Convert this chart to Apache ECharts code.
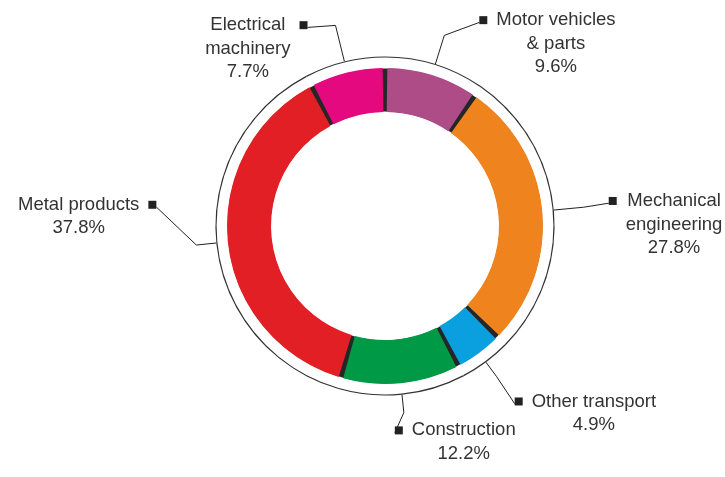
<!DOCTYPE html>
<html>
<head>
<meta charset="utf-8">
<script src="https://cdn.jsdelivr.net/npm/echarts@6/dist/echarts.min.js"></script>
<style>
  html, body { margin: 0; padding: 0; background: #fff; }
  #chart { width: 725px; height: 477px; }
</style>
</head>
<body>
<div id="chart"></div>
<script>
var names = ["Motor vehicles\n& parts", "Mechanical\nengineering", "Other transport", "Construction", "Metal products", "Electrical\nmachinery"];
var shares = [9.6, 27.8, 4.9, 12.2, 37.8, 7.7];
var colors = ["#ae4c87", "#ef841f", "#0aa0df", "#009a46", "#e31f26", "#e4097f"];

// leader lines: radial leg, horizontal leg, then a nudge of the label end
var leg1 = [30, 30, 18, 18, 20, 37];
var leg2 = [35, 28, 18, 0, 40, 28];
var nudgeX = [0, -3, 0, -9, 0, 0];
var nudgeY = [-13, -4, 27, 20, -38, 2];

var LH = 23.5;

function hasFont(name) {
  var c = document.createElement("canvas").getContext("2d");
  var s = "Other transport 37.8%";
  c.font = "40px monospace";
  var w0 = c.measureText(s).width;
  c.font = '40px "' + name + '", monospace';
  return c.measureText(s).width !== w0;
}
var narrow = hasFont("Liberation Sans Narrow");
var family = narrow ? '"Liberation Sans Narrow", sans-serif' : '"Liberation Sans", Arial, sans-serif';
var size = narrow ? 22 : 18.5;

// which side each label sits on
var total = shares.reduce(function (a, b) { return a + b; }, 0);
var onLeft = [];
var acc = 0;
shares.forEach(function (v) {
  onLeft.push((acc + v / 2) / total > 0.5);
  acc += v;
});

var gapData = shares.map(function (v) { return { value: v }; });
var sliceData = shares.map(function (v, i) {
  return { value: v, itemStyle: { color: colors[i] } };
});
var labelData = shares.map(function (v, i) {
  return { value: v, name: names[i], labelLine: { length: leg1[i], length2: leg2[i] } };
});

var myChart = echarts.init(document.getElementById("chart"));
var option = {
  animation: false,
  backgroundColor: "#fff",
  series: [
    {
      type: "pie",
      center: [385, 226],
      radius: [114.5, 157.5],
      startAngle: 80,
      silent: true,
      itemStyle: { color: "#262626", borderWidth: 0 },
      label: { show: false },
      labelLine: { show: false },
      data: gapData
    },
    {
      type: "pie",
      center: [385, 226],
      radius: [114, 158],
      padAngle: 1.7,
      silent: true,
      itemStyle: { borderWidth: 0 },
      label: { show: false },
      labelLine: { show: false },
      data: sliceData
    },
    {
      type: "pie",
      center: [385, 226],
      radius: [168.4, 169.6],
      silent: true,
      avoidLabelOverlap: false,
      itemStyle: { color: "#333", borderWidth: 0 },
      label: {
        show: true,
        position: "outside",
        distanceToLabelLine: 0,
        formatter: function (p) {
          var i = p.dataIndex;
          var lines = names[i].split("\n").concat([shares[i].toFixed(1) + "%"]);
          return lines.map(function (s, k) {
            if (k === 0) {
              return onLeft[i] ? "{sl|}{t|" + s + "}{gr|}{mr|}" : "{ml|}{gl|}{t|" + s + "}{sr|}";
            }
            return "{sl|}{t|" + s + "}{sr|}";
          }).join("\n");
        },
        rich: {
          t: { fontFamily: family, fontSize: size, lineHeight: LH, color: "#333", align: "center" },
          ml: { width: 8, height: 8, backgroundColor: "#222", align: "left", lineHeight: LH },
          mr: { width: 8, height: 8, backgroundColor: "#222", align: "right", lineHeight: LH },
          gl: { width: 9, align: "left", lineHeight: LH },
          gr: { width: 9, align: "right", lineHeight: LH },
          sl: { width: 17, align: "left", lineHeight: LH },
          sr: { width: 17, align: "right", lineHeight: LH }
        }
      },
      labelLine: {
        show: true,
        lineStyle: { color: "#222", width: 1 }
      },
      labelLayout: function (params) {
        var i = params.dataIndex;
        var pts = params.labelLinePoints;
        if (!pts) {
          return {};
        }
        var h = params.labelRect.height;
        var ex = pts[2][0] + nudgeX[i];
        var ey = pts[2][1] + nudgeY[i];
        return {
          x: ex,
          y: ey + (h - LH) / 2,
          labelLinePoints: [pts[0], pts[1], [ex, ey]]
        };
      },
      data: labelData
    }
  ]
};
myChart.setOption(option);
</script>
</body>
</html>
